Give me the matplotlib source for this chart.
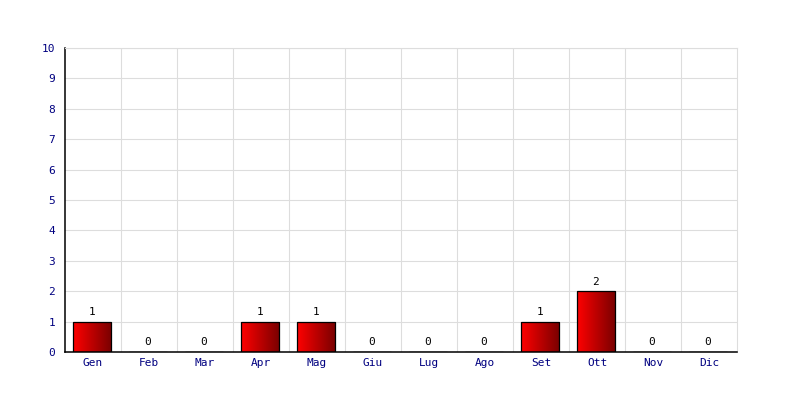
import numpy as np
import matplotlib
matplotlib.use('Agg')
import matplotlib.pyplot as plt
from matplotlib.colors import LinearSegmentedColormap

months = ['Gen', 'Feb', 'Mar', 'Apr', 'Mag', 'Giu', 'Lug', 'Ago', 'Set', 'Ott', 'Nov', 'Dic']
counts = [1, 0, 0, 1, 1, 0, 0, 0, 1, 2, 0, 0]
yticks = list(range(0, 11))

plt.rcParams['font.family'] = 'DejaVu Sans Mono'

fig = plt.figure(figsize=(8, 4), dpi=100)
ax = fig.add_axes([0.08125, 0.12, 0.84, 0.76])

x = np.arange(len(months))

# grid
ax.set_yticks(yticks)
ax.set_xticks(x)
ax.set_xticks(x[:-1] + 0.5, minor=True)
ax.grid(True, axis='y', color='#dddddd', linewidth=0.8)
ax.grid(True, axis='x', which='minor', color='#dddddd', linewidth=0.8)
ax.set_axisbelow(True)

ax.set_xticklabels(months, color='#000080', fontsize=8)
ax.set_yticklabels([str(v) for v in yticks], color='#000080', fontsize=8)
ax.tick_params(axis='both', which='both', length=0, pad=4)
ax.tick_params(axis='y', pad=7)

for s in ['top', 'right']:
    ax.spines[s].set_color('#dddddd')
    ax.spines[s].set_linewidth(0.8)
for s in ['left', 'bottom']:
    ax.spines[s].set_color('black')
    ax.spines[s].set_linewidth(1.1)

cmap = LinearSegmentedColormap.from_list('bar', ['#ff0000', '#780000'])
grad = np.linspace(0, 1, 256).reshape(1, -1)
w = 0.68
bars = ax.bar(x - 0.02, counts, width=w, color='none', edgecolor='black', linewidth=0.9, zorder=3)
for b, v in zip(bars, counts):
    x0 = b.get_x()
    if v > 0:
        im = ax.imshow(grad, cmap=cmap, aspect='auto', extent=[x0, x0 + w, 0, v],
                       zorder=2, interpolation='bilinear')
        im.set_clip_path(b)
    ax.text(x0 + w / 2, v + 0.15, str(v), ha='center', va='bottom',
            fontsize=8, color='black')

ax.set_xlim(-0.5, len(months) - 0.5)
ax.set_ylim(0, 10)

fig.savefig('out.png', dpi=100)
